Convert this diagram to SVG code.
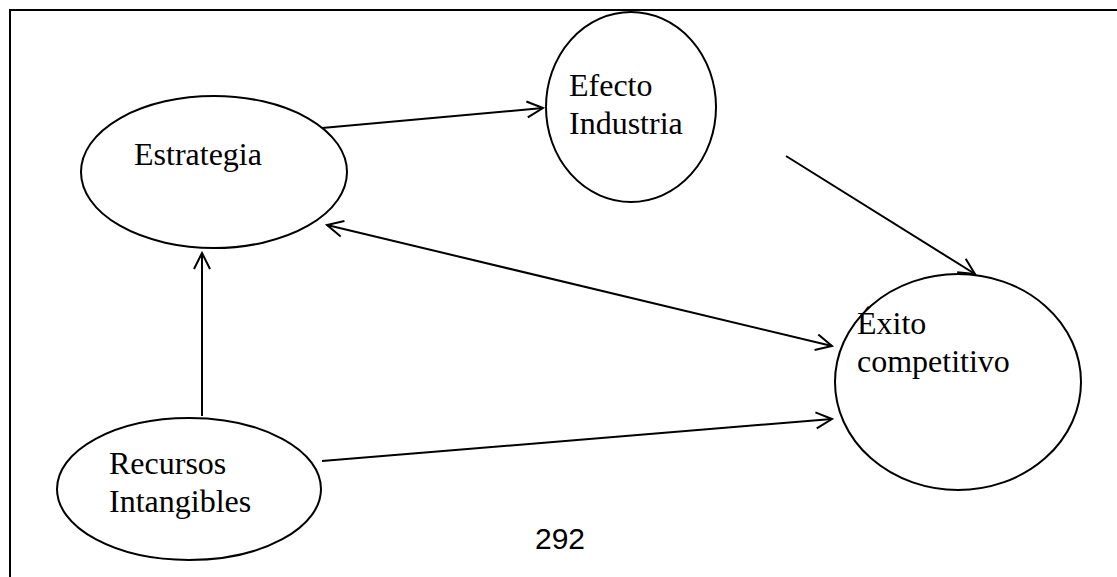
<svg xmlns="http://www.w3.org/2000/svg" width="1117" height="577" viewBox="0 0 1117 577">
<defs>
<style>
.n{fill:none;stroke:#000;stroke-width:2}
.t{font-family:"Liberation Serif","Times New Roman",serif;font-size:32px;fill:#000}
.c line{stroke:#000;stroke-width:2}
</style>
<marker id="ah" viewBox="0 0 20 20" refX="18" refY="10" markerWidth="20" markerHeight="20" markerUnits="userSpaceOnUse" orient="auto-start-reverse">
<path d="M2,2 L18,10 L2,18" fill="none" stroke="#000" stroke-width="2"/>
</marker>
</defs>
<rect width="1117" height="577" fill="#fff"/>
<path d="M10,577 V10 H1117" fill="none" stroke="#000" stroke-width="2"/>
<g class="c">
<line x1="322" y1="128" x2="543" y2="108" marker-end="url(#ah)"/>
<line x1="786" y1="156" x2="975" y2="274" marker-end="url(#ah)"/>
<line x1="327" y1="225" x2="832" y2="346" marker-start="url(#ah)" marker-end="url(#ah)"/>
<line x1="202" y1="416" x2="202" y2="253" marker-end="url(#ah)"/>
<line x1="322" y1="461" x2="832" y2="419" marker-end="url(#ah)"/>
</g>
<g id="estrategia"><ellipse class="n" cx="214" cy="172" rx="133" ry="76"/><text class="t" x="134" y="165">Estrategia</text></g>
<g id="efecto"><ellipse class="n" cx="631" cy="107" rx="85" ry="95"/><text class="t" x="569" y="96">Efecto</text><text class="t" x="569" y="134">Industria</text></g>
<g id="exito"><ellipse class="n" cx="958" cy="382" rx="123" ry="108"/><text class="t" x="857" y="334">Éxito</text><text class="t" x="857" y="372">competitivo</text></g>
<g id="recursos"><ellipse class="n" cx="189" cy="489" rx="132" ry="71"/><text class="t" x="109" y="474">Recursos</text><text class="t" x="109" y="512">Intangibles</text></g>
<text x="535" y="549" font-family="Liberation Sans,Arial,sans-serif" font-size="30">292</text>
</svg>
